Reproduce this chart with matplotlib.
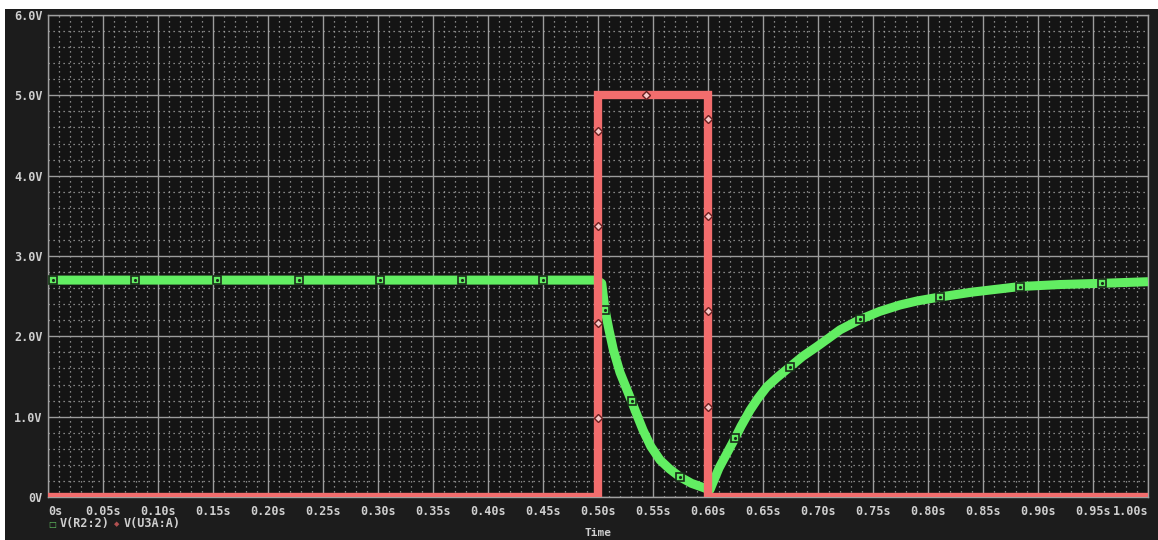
import numpy as np
import matplotlib
matplotlib.use('Agg')
import matplotlib.pyplot as plt
from matplotlib.patches import Rectangle
from matplotlib.ticker import MultipleLocator

# V(R2:2)
t_green = [0.0, 0.4990, 0.5034, 0.5064, 0.510, 0.514, 0.520, 0.5306, 0.536, 0.541, 0.548,
           0.5564, 0.565, 0.5745, 0.585, 0.5973, 0.6000,
           0.6018, 0.610, 0.6245, 0.630, 0.6382, 0.645, 0.6534, 0.663, 0.6745, 0.686,
           0.6988, 0.710, 0.720, 0.7382, 0.756, 0.7745, 0.790, 0.8109, 0.840, 0.8836,
           0.920, 0.9579, 1.0]
v_green = [2.70, 2.70, 2.66, 2.33, 2.08, 1.83, 1.55, 1.19, 1.00, 0.83, 0.63,
           0.46, 0.35, 0.25, 0.17, 0.11, 0.09,
           0.09, 0.36, 0.73, 0.88, 1.08, 1.22, 1.37, 1.49, 1.62, 1.75,
           1.87, 1.98, 2.08, 2.21, 2.31, 2.39, 2.44, 2.49, 2.55, 2.62,
           2.645, 2.66, 2.68]
# marker positions on the green trace
t_green_mk = [0.0048, 0.0791, 0.1535, 0.2278, 0.3021, 0.3764, 0.4497,
              0.5064, 0.5306, 0.5745, 0.6245, 0.6745, 0.7382, 0.8109, 0.8836, 0.9579]
v_green_mk = [2.70, 2.70, 2.70, 2.70, 2.70, 2.70, 2.70,
              2.33, 1.19, 0.25, 0.73, 1.62, 2.21, 2.49, 2.62, 2.66]

# V(U3A:A) - pulse
t_red = [0.0, 0.5, 0.5, 0.6, 0.6, 1.0]
v_red = [0.0, 0.0, 5.0, 5.0, 0.0, 0.0]
t_red_mk = [0.5, 0.5, 0.5, 0.5, 0.5436, 0.6, 0.6, 0.6, 0.6]
v_red_mk = [0.98, 2.17, 3.37, 4.55, 5.0, 4.71, 3.50, 2.31, 1.12]

x_ticks = np.arange(0, 1.0001, 0.05)
x_labels = ['0s'] + ['%.2fs' % v for v in x_ticks[1:]]
y_ticks = [0, 1, 2, 3, 4, 5, 6]
y_labels = ['0V', '1.0V', '2.0V', '3.0V', '4.0V', '5.0V', '6.0V']

bg = '#1c1c1c'
txt = '#cfcfcf'
green = '#62ee62'
red = '#f26d6d'

fig = plt.figure(figsize=(11.58, 5.40), dpi=100, facecolor=bg)
# white strips at top and left edge of the screenshot
fig.patches.append(Rectangle((0, 1 - 9 / 540), 1, 9 / 540, transform=fig.transFigure,
                             facecolor='white', edgecolor='none', zorder=0))
fig.patches.append(Rectangle((0, 0), 5 / 1158, 1, transform=fig.transFigure,
                             facecolor='white', edgecolor='none', zorder=0))

ax = fig.add_axes([48 / 1158, 43 / 540, 1100 / 1158, 482 / 540])
ax.set_facecolor('#141414')

ax.plot(t_green, v_green, color=green, lw=6.5, solid_capstyle='butt',
        solid_joinstyle='round', zorder=3)
ax.plot(t_green_mk, v_green_mk, ls='none', marker='s', ms=6, mfc=green, mec='#1a2a1a',
        mew=1.2, zorder=4)
ax.plot(t_green_mk, v_green_mk, ls='none', marker='.', ms=2.5, color='#1a2a1a', zorder=5)

ax.plot(t_red, v_red, color=red, lw=6, solid_joinstyle='miter', solid_capstyle='butt', zorder=6)
ax.plot(t_red_mk, v_red_mk, ls='none', marker='D', ms=4, mfc='#f8c8c8', mec='#6a2020',
        mew=1, zorder=7)

ax.set_xlim(0, 1.0)
ax.set_ylim(0, 6)
ax.set_xticks(x_ticks)
ax.set_xticklabels(x_labels)
ax.set_yticks(y_ticks)
ax.set_yticklabels(y_labels)
ax.xaxis.set_minor_locator(MultipleLocator(0.01))
ax.yaxis.set_minor_locator(MultipleLocator(0.2))

ax.grid(True, which='major', color='#9c9c9c', lw=1, zorder=1)
ax.grid(True, which='minor', color='#a8a8a8', lw=0.9, ls=(0, (1, 3)), zorder=1)
ax.tick_params(which='both', length=0, colors=txt)
ax.tick_params(axis='x', pad=6)
ax.tick_params(axis='y', pad=4)
for lab in ax.get_xticklabels() + ax.get_yticklabels():
    lab.set_family('DejaVu Sans Mono')
    lab.set_fontweight('bold')
    lab.set_fontsize(8.5)
    lab.set_color(txt)
xl = ax.get_xticklabels()
xl[0].set_ha('left')
xl[-1].set_ha('right')
for s in ax.spines.values():
    s.set_color('#a0a0a0')
    s.set_linewidth(1)

# legend row under the axis
fig.text(52 / 1158, 1 - 524 / 540, '\u25a1', color='#62c062', fontsize=6,
         ha='center', va='center', family='DejaVu Sans')
fig.text(60 / 1158, 1 - 524 / 540, 'V(R2:2)', color=txt, fontsize=8.5, fontweight='bold',
         ha='left', va='center', family='DejaVu Sans Mono')
fig.text(117 / 1158, 1 - 524 / 540, '\u25c6', color='#b05050', fontsize=5,
         ha='center', va='center', family='DejaVu Sans')
fig.text(124 / 1158, 1 - 524 / 540, 'V(U3A:A)', color=txt, fontsize=8.5, fontweight='bold',
         ha='left', va='center', family='DejaVu Sans Mono')
fig.text(598 / 1158, 2 / 540, 'Time', color=txt, fontsize=8, fontweight='bold',
         ha='center', va='bottom', family='DejaVu Sans Mono')

fig.savefig('out.png', dpi=100, facecolor=bg)
